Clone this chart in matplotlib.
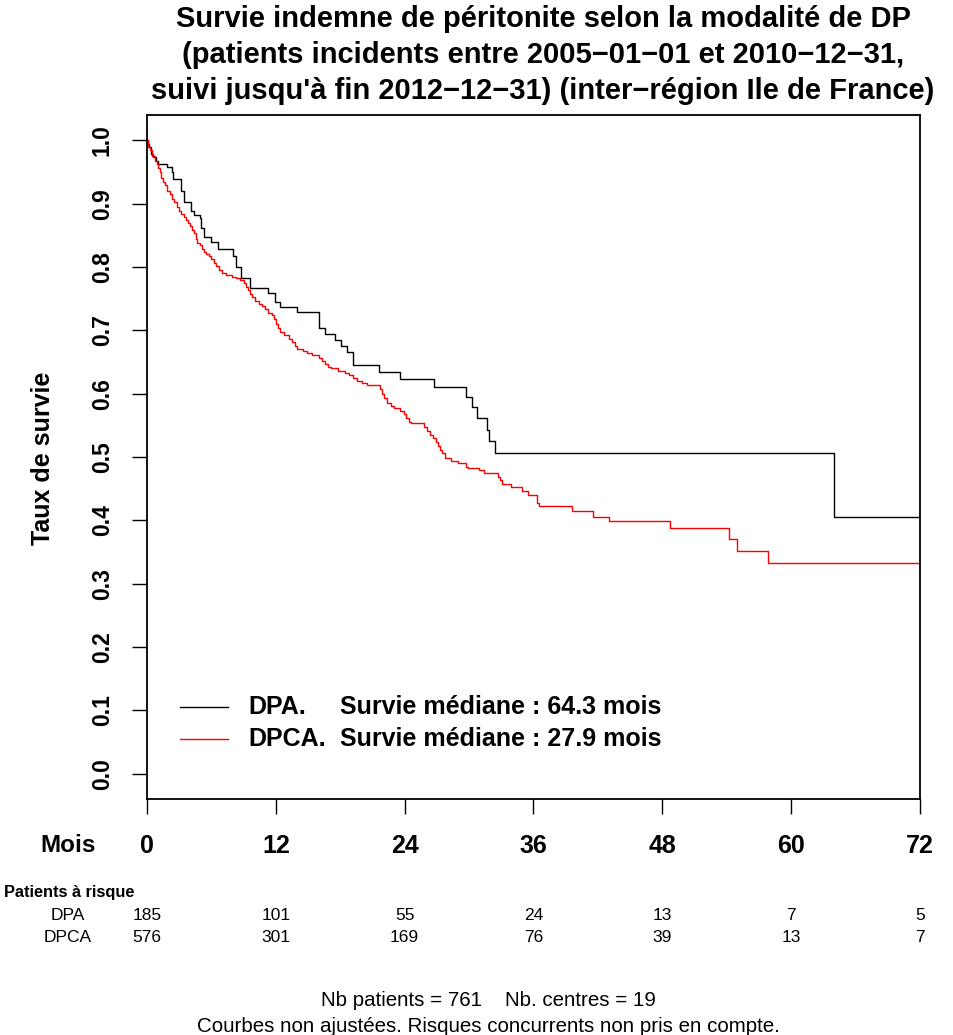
import matplotlib
matplotlib.use('Agg')
import matplotlib.pyplot as plt
import numpy as np

plt.rcParams['font.family'] = ['Liberation Sans', 'DejaVu Sans']

# Kaplan-Meier steps (time in months, survival after the drop)
dpa_time = [0, 0.1, 0.2, 0.4, 0.6, 0.8, 1.0, 1.9, 2.3, 2.4, 3.2, 3.4, 4.1, 4.4, 4.9, 5.0,
            5.3, 6.0, 6.6, 8.0, 8.3, 8.8, 9.6, 11.3, 11.9, 12.4, 14.0, 16.0, 16.6, 17.5,
            18.1, 18.6, 19.15, 21.6, 23.6, 26.7, 29.7, 30.3, 30.7, 31.7, 31.85, 32.4, 64.0]
dpa_surv = [1.0, 0.995, 0.989, 0.978, 0.973, 0.968, 0.963, 0.958, 0.950, 0.939, 0.920, 0.903,
            0.889, 0.882, 0.877, 0.861, 0.847, 0.839, 0.828, 0.818, 0.800, 0.782, 0.767, 0.759,
            0.745, 0.737, 0.729, 0.703, 0.695, 0.684, 0.675, 0.666, 0.645, 0.635, 0.623, 0.610,
            0.594, 0.579, 0.562, 0.542, 0.525, 0.506, 0.405]

dpca_time = [0, 0.1, 0.3, 0.5, 0.75, 0.9, 1.05, 1.2, 1.35, 1.5, 1.7, 1.9, 2.1, 2.3, 2.5, 2.75,
             2.95, 3.15, 3.4, 3.6, 3.8, 4.0, 4.2, 4.4, 4.55, 4.7, 4.9, 5.1, 5.3, 5.5, 5.75, 6.0,
             6.2, 6.45, 6.7, 7.0, 7.4, 7.9, 8.3, 8.7, 9.0, 9.2, 9.4, 9.6, 9.8, 10.1, 10.4, 10.7,
             11.0, 11.3, 11.6, 11.8, 12.0, 12.2, 12.4, 12.8, 13.2, 13.5, 13.8, 14.0, 14.5, 14.9,
             15.4, 16.0, 16.3, 16.6, 16.9, 17.1, 17.8, 18.4, 18.8, 19.2, 19.6, 20.0, 20.5, 21.7,
             21.9, 22.1, 22.4, 22.7, 23.0, 23.6, 23.9, 24.1, 24.4, 24.6, 25.8, 26.1, 26.4, 26.6,
             26.9, 27.1, 27.3, 27.5, 27.8, 28.3, 29.0, 29.7, 29.9, 30.9, 31.4, 32.7, 32.9, 33.1,
             33.9, 34.9, 35.5, 36.3, 36.5, 39.6, 41.5, 43.0, 48.7, 54.2, 55.0, 57.8]
dpca_surv = [1.0, 0.990, 0.984, 0.976, 0.968, 0.963, 0.956, 0.950, 0.940, 0.935, 0.930, 0.920,
             0.915, 0.908, 0.903, 0.895, 0.889, 0.884, 0.879, 0.874, 0.869, 0.865, 0.858, 0.853,
             0.845, 0.838, 0.834, 0.829, 0.824, 0.821, 0.817, 0.813, 0.807, 0.801, 0.796, 0.791,
             0.787, 0.784, 0.782, 0.779, 0.775, 0.769, 0.763, 0.757, 0.752, 0.746, 0.742, 0.739,
             0.734, 0.728, 0.724, 0.718, 0.710, 0.703, 0.697, 0.692, 0.687, 0.681, 0.675, 0.671,
             0.668, 0.665, 0.661, 0.657, 0.652, 0.647, 0.642, 0.640, 0.636, 0.632, 0.629, 0.624,
             0.620, 0.617, 0.613, 0.608, 0.600, 0.593, 0.586, 0.581, 0.578, 0.573, 0.568, 0.562,
             0.556, 0.553, 0.547, 0.541, 0.535, 0.530, 0.524, 0.517, 0.511, 0.506, 0.499, 0.494,
             0.490, 0.485, 0.482, 0.479, 0.474, 0.468, 0.463, 0.457, 0.452, 0.446, 0.440, 0.427,
             0.422, 0.414, 0.406, 0.399, 0.388, 0.370, 0.352, 0.332]
t_end = 72

groups = ['DPA', 'DPCA']
medians = [64.3, 27.9]
risk_times = [0, 12, 24, 36, 48, 60, 72]
risk_dpa = [185, 101, 55, 24, 13, 7, 5]
risk_dpca = [576, 301, 169, 76, 39, 13, 7]
y_ticks = [0.0, 0.1, 0.2, 0.3, 0.4, 0.5, 0.6, 0.7, 0.8, 0.9, 1.0]

W, H = 954, 1035
fig = plt.figure(figsize=(W/100, H/100), dpi=100)
ax = fig.add_axes([147/W, 1-799/H, (920-147)/W, (799-115)/H])

for t, s, c in [(dpa_time, dpa_surv, 'black'), (dpca_time, dpca_surv, 'red')]:
    ax.step(list(t)+[t_end], list(s)+[s[-1]], where='post', color=c, lw=1.0)

ax.set_xlim(0, 72)
ax.set_ylim(-0.04, 1.04)
ax.set_xticks(risk_times)
ax.set_xticklabels([str(x) for x in risk_times], fontsize=18, fontweight='bold')
ax.set_yticks(y_ticks)
ax.set_yticklabels(['%.1f' % v for v in y_ticks], fontsize=16.5, fontweight='bold',
                   rotation=90, va='center')
ax.tick_params(axis='both', direction='out', length=11, width=1.0)
ax.tick_params(axis='x', pad=14)
ax.tick_params(axis='y', pad=13)
for sp in ax.spines.values():
    sp.set_linewidth(1.3)

fig.text(43/W, 1-458/H, 'Taux de survie', fontsize=18, fontweight='bold',
         rotation=90, ha='center', va='center')

# legend drawn like R's legend(bty='n')
px2t = 72/773
lx0, lx1 = (180-147)*px2t, (228-147)*px2t
for k, (g, m, c) in enumerate(zip(groups, medians, ['black', 'red'])):
    yy = -0.04 + 1.08*(799-707-32*k)/684
    ax.plot([lx0, lx1], [yy, yy], color=c, lw=1.0)
    ax.text((248-147)*px2t, yy, g + '.', fontsize=18, fontweight='bold', va='center')
    ax.text((340-147)*px2t, yy, 'Survie médiane : %.1f mois' % m, fontsize=18,
            fontweight='bold', va='center')

title = ("Survie indemne de péritonite selon la modalité de DP\n"
         "(patients incidents entre 2005\u221201\u221201 et 2010\u221212\u221231,\n"
         "suivi jusqu'à fin 2012\u221212\u221231) (inter\u2212région Ile de France)")
fig.text(543/W, 1-55/H, title, fontsize=21, fontweight='bold', ha='center', va='center',
         linespacing=1.36)

fig.text(68/W, 1-845/H, 'Mois', fontsize=17.5, fontweight='bold', ha='center', va='center')

fig.text(4/W, 1-892/H, 'Patients à risque', fontsize=11.8, fontweight='bold',
         ha='left', va='center')
for row, (g, vals) in enumerate(zip(groups, [risk_dpa, risk_dpca])):
    yy = 1-(915+22*row)/H
    fig.text(68/W, yy, g, fontsize=12.5, ha='center', va='center')
    for tt, v in zip(risk_times, vals):
        fig.text((147+tt*773/72)/W, yy, str(v), fontsize=12.5, ha='center', va='center')

fig.text(488/W, 1-1001/H, 'Nb patients = 761    Nb. centres = 19', fontsize=14.8,
         ha='center', va='center')
fig.text(488/W, 1-1026/H, 'Courbes non ajustées. Risques concurrents non pris en compte.',
         fontsize=14.8, ha='center', va='center')

fig.savefig('out.png', dpi=100)
